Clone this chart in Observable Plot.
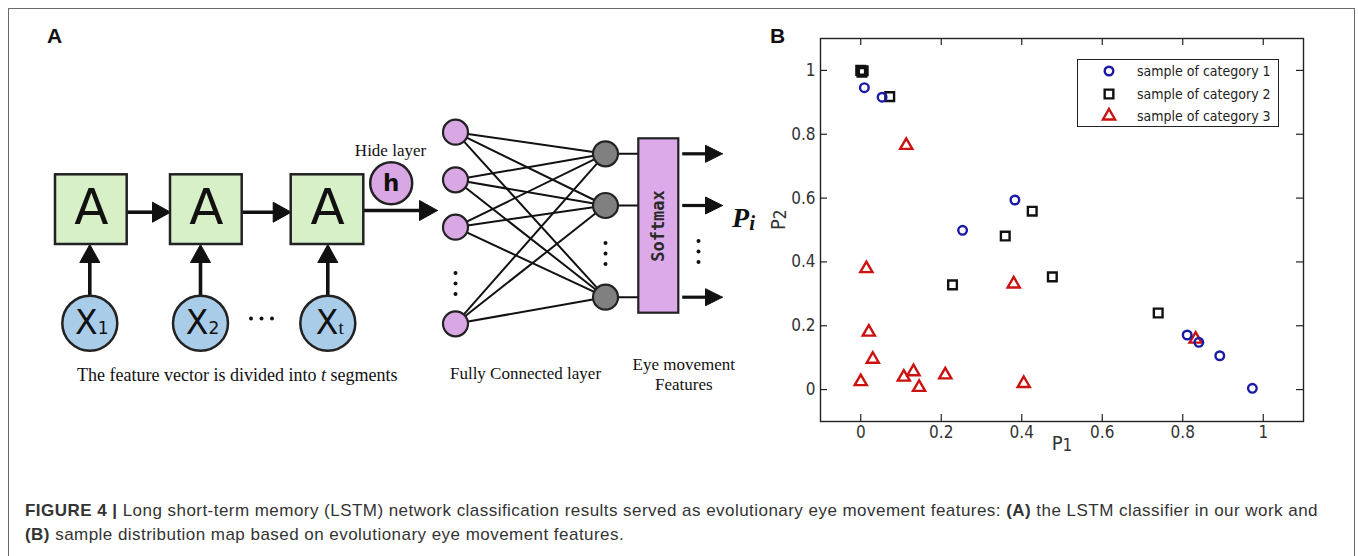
<!DOCTYPE html>
<html><head><meta charset="utf-8">
<script src="https://cdn.jsdelivr.net/npm/d3@7"></script>
<script src="https://cdn.jsdelivr.net/npm/@observablehq/plot@0.6"></script>
<style>
html,body{margin:0;padding:0;background:#fff;}
#page{position:relative;width:1358px;height:556px;overflow:hidden;background:#fff;font-family:"Liberation Sans",Arial,sans-serif;}
#border{position:absolute;left:8px;top:8px;width:1345px;height:600px;border:1px solid #6a6a6a;border-bottom:none;pointer-events:none;}
.panel-label{position:absolute;font:bold 21px/21px "Liberation Sans",Arial,sans-serif;color:#111;}
#caption{position:absolute;left:25px;top:499px;font-size:17px;line-height:24px;color:#333;white-space:nowrap;}
#caption b{font-weight:bold;}
#plotA{position:absolute;left:0;top:0;}
#plotB{position:absolute;left:760px;top:20px;}
#legend{position:absolute;left:1077px;top:59px;width:200px;height:66px;border:1.3px solid #222;background:#fff;font-family:"DejaVu Sans Condensed","DejaVu Sans",sans-serif;font-size:14px;color:#222;}
.lg-item{position:absolute;left:0;height:20px;width:200px;}
.lg-item svg{position:absolute;left:21px;top:0;}
.lg-item span{position:absolute;left:59px;top:1px;line-height:18px;white-space:nowrap;}
</style></head>
<body><div id="page">
<div id="plotA"></div>
<div id="plotB"></div>
<div id="legend"></div>
<div class="panel-label" style="left:47px;top:25px;">A</div>
<div class="panel-label" style="left:770px;top:25px;">B</div>
<div id="caption"><span id="cap1"><b>FIGURE 4 |</b> Long short-term memory (LSTM) network classification results served as evolutionary eye movement features: <b>(A)</b> the LSTM classifier in our work and</span><br><span id="cap2"><b>(B)</b> sample distribution map based on evolutionary eye movement features.</span></div>
<div id="border"></div>
</div>
<script>
// ---------- Panel B data ----------
const categories = ["sample of category 1", "sample of category 2", "sample of category 3"];
const cat1P1 = [0.009, 0.053, 0.253, 0.383, 0.811, 0.840, 0.892, 0.973];
const cat1P2 = [0.946, 0.916, 0.499, 0.594, 0.171, 0.148, 0.106, 0.004];
const cat2P1 = [0.000, 0.003, 0.006, 0.072, 0.228, 0.359, 0.426, 0.476, 0.739];
const cat2P2 = [1.000, 0.994, 0.999, 0.918, 0.328, 0.481, 0.559, 0.353, 0.240];
const cat3P1 = [0.113, 0.014, 0.020, 0.030, 0.000, 0.107, 0.131, 0.145, 0.210, 0.380, 0.405, 0.832];
const cat3P2 = [0.765, 0.379, 0.180, 0.095, 0.025, 0.039, 0.056, 0.007, 0.046, 0.331, 0.019, 0.158];
const tickValues = [0, 0.2, 0.4, 0.6, 0.8, 1];
const tickLabels = ["0", "0.2", "0.4", "0.6", "0.8", "1"];
const axisLabels = ["P1", "P2"];

// ---------- Panel A content ----------
const cellLabels = ["A", "A", "A"];
const inputLabels = ["X1", "X2", "Xt"];
const hiddenLabel = "h";
const textsA = ["Hide layer", "The feature vector is divided into t segments", "Fully Connected layer", "Eye movement\nFeatures", "Softmax", "Pi"];

// layout of the diagram (pixels)
const cellBoxes = [{x1:55, x2:126.7}, {x1:170, x2:241.7}, {x1:290.7, x2:363.3}];
const cellTop = 174.3, cellBottom = 244;
const inputX = [89.3, 200, 327.3], inputY = 322.7, inputR = 27.5;
const hidden = {x:390.7, y:182.7};
const hiddenR = 21;
const fcLeftX = 455, fcLeftY = [131.7, 179.3, 226.7, 323.3];
const fcRightX = 605, fcRightY = [153.3, 205, 296.7];
const nodeR = 12.5;
const softmaxBox = {x1:638.3, x2:678.3, y1:138.3, y2:312.7};
const ellipsisOffsets = [-10.5, 0, 10.5];
const vEllipses = [{x:455, y:283}, {x:605, y:253}, {x:698, y:251}];
const hEllipses = [{x:261, y:318}];

const cells = cellBoxes.map((b,i)=>({...b, y1:cellTop, y2:cellBottom, label:cellLabels[i]}));
const inputs = inputX.map((x,i)=>({x, y:inputY, label:inputLabels[i]}));
const ellDots = [
  ...vEllipses.flatMap(e => ellipsisOffsets.map(o => ({x:e.x, y:e.y + o}))),
  ...hEllipses.flatMap(e => ellipsisOffsets.map(o => ({x:e.x + o, y:e.y})))
];

const bigArrows = [
  {x1:126.7, y1:211.7, x2:170, y2:211.7},
  {x1:241.7, y1:211.7, x2:290.7, y2:211.7},
  {x1:363.3, y1:210, x2:437, y2:210},
  ...inputX.map(x=>({x1:x, y1:inputY-inputR, x2:x, y2:cellBottom}))
];
const outArrows = fcRightY.map(y=>({x1:681.7, y1:y, x2:722, y2:y}));

function arrowParts(list, L, w, offset) {
  const shafts = [], heads = [];
  list.forEach((a, k) => {
    const dx = a.x2 - a.x1, dy = a.y2 - a.y1, len = Math.hypot(dx, dy);
    const ux = dx/len, uy = dy/len;
    const bx = a.x2 - ux*L, by = a.y2 - uy*L;
    shafts.push({x1:a.x1, y1:a.y1, x2:bx+ux*2, y2:by+uy*2});
    const id = offset + k;
    heads.push({id, x:a.x2, y:a.y2}, {id, x:bx - uy*w, y:by + ux*w}, {id, x:bx + uy*w, y:by - ux*w}, {id, x:a.x2, y:a.y2});
  });
  return {shafts, heads};
}
const big = arrowParts(bigArrows, 18, 10, 0);
const out = arrowParts(outArrows, 17, 8.5, 100);

const fcLinks = [];
fcLeftY.forEach(y1 => fcRightY.forEach(y2 => fcLinks.push({x1:fcLeftX, y1, x2:fcRightX, y2})));
const connectors = fcRightY.map(y=>({x1:fcRightX, y1:y, x2:softmaxBox.x1, y2:y}));

const WA = 760, HA = 460;
const serif = "Liberation Serif, Times New Roman, serif";
const sans = "DejaVu Sans, sans-serif";

const plotA = Plot.plot({
  width: WA, height: HA, margin: 0,
  style: {background: "transparent"},
  x: {domain: [0, WA], range: [0, WA], axis: null},
  y: {domain: [0, HA], range: [0, HA], axis: null},
  marks: [
    Plot.link(big.shafts, {x1:"x1", y1:"y1", x2:"x2", y2:"y2", stroke:"#111", strokeWidth:3.6}),
    Plot.line(big.heads, {x:"x", y:"y", z:"id", fill:"#111", stroke:"#111", strokeWidth:1}),
    Plot.rect(cells, {x1:"x1", x2:"x2", y1:"y1", y2:"y2", fill:"#d8f0c8", stroke:"#222", strokeWidth:2.5}),
    Plot.text(cells, {x:d=>(d.x1+d.x2)/2, y:207, text:"label", fontSize:50, fontFamily:sans, fill:"#111"}),
    Plot.dot(inputs, {x:"x", y:"y", r:inputR, fill:"#a9cce9", stroke:"#222", strokeWidth:2.5}),
    Plot.text(inputs, {x:"x", y:"y", text:"label", fontSize:33, fontFamily:sans, fill:"#111", dx:2}),
    Plot.dot([hidden], {x:"x", y:"y", r:hiddenR, fill:"#d9a7e3", stroke:"#222", strokeWidth:2.5}),
    Plot.text([hiddenLabel], {x:hidden.x, y:hidden.y, text:d=>d, fontSize:23, fontWeight:"bold", fontFamily:sans, fill:"#111"}),
    Plot.text([textsA[0]], {x:390, y:150, text:d=>d, fontSize:17, fontFamily:serif, fill:"#111"}),
    Plot.text([textsA[1]], {x:236.7, y:375, text:d=>d, fontSize:18, fontFamily:serif, fill:"#111"}),
    Plot.link(fcLinks, {x1:"x1", y1:"y1", x2:"x2", y2:"y2", stroke:"#111", strokeWidth:2}),
    Plot.link(connectors, {x1:"x1", y1:"y1", x2:"x2", y2:"y2", stroke:"#111", strokeWidth:2}),
    Plot.dot(fcLeftY, {x:fcLeftX, y:d=>d, r:nodeR, fill:"#d9a7e3", stroke:"#222", strokeWidth:2.2}),
    Plot.dot(fcRightY, {x:fcRightX, y:d=>d, r:nodeR, fill:"#808080", stroke:"#222", strokeWidth:2.2}),
    Plot.dot(ellDots, {x:"x", y:"y", r:2, fill:"#111", stroke:"none"}),
    Plot.rect([softmaxBox], {x1:"x1", x2:"x2", y1:"y1", y2:"y2", fill:"#dcaae8", stroke:"#222", strokeWidth:2.2}),
    Plot.text([textsA[4]], {x:(softmaxBox.x1+softmaxBox.x2)/2, y:(softmaxBox.y1+softmaxBox.y2)/2, text:d=>d, rotate:-90, fontSize:17, fontWeight:"bold", fontFamily:"DejaVu Sans Mono, monospace", fill:"#2a2a2a"}),
    Plot.link(out.shafts, {x1:"x1", y1:"y1", x2:"x2", y2:"y2", stroke:"#111", strokeWidth:3.2}),
    Plot.line(out.heads, {x:"x", y:"y", z:"id", fill:"#111", stroke:"#111", strokeWidth:1}),
    Plot.text([textsA[5]], {x:743, y:218, text:d=>d, fontSize:28, fontStyle:"italic", fontWeight:"bold", fontFamily:serif, fill:"#111"}),
    Plot.text([textsA[2]], {x:525, y:373.3, text:d=>d, fontSize:17, fontFamily:serif, fill:"#111"}),
    Plot.text([textsA[3]], {x:683.3, y:373.3, text:d=>d, fontSize:17, lineHeight:1.18, fontFamily:serif, fill:"#111"})
  ]
});
document.getElementById("plotA").append(plotA);

function richText(svg, plain, html) {
  svg.querySelectorAll("text").forEach(t => { if (t.textContent === plain) t.innerHTML = html; });
}
richText(plotA, "X1", 'X<tspan font-size="17">1</tspan>');
richText(plotA, "X2", 'X<tspan font-size="17">2</tspan>');
richText(plotA, "Xt", 'X<tspan font-size="19" font-family="Liberation Serif, serif">t</tspan>');
richText(plotA, textsA[1], 'The feature vector is divided into <tspan font-style="italic">t</tspan> segments');
richText(plotA, "Pi", 'P<tspan font-size="21" dy="3">i</tspan>');

// ---------- Panel B ----------
const cat1 = cat1P1.map((p1,i)=>({p1, p2:cat1P2[i]}));
const cat2 = cat2P1.map((p1,i)=>({p1, p2:cat2P2[i]}));
const cat3 = cat3P1.map((p1,i)=>({p1, p2:cat3P2[i]}));
const colors = ["#1a1aa6", "#111111", "#cc1111"];
const symbols = ["circle", "square", "triangle"];
const radii = [4.3, 4.9, 4.5];

const W = 560, H = 450, mL = 60, mR = 17, mT = 18, mB = 49;
const fw = W - mL - mR, fh = H - mT - mB;
const fmt = d => tickLabels[tickValues.indexOf(d)];
const tickStyle = {stroke:"#222", strokeWidth:1.2};
const plotB = Plot.plot({
  width: W, height: H, marginLeft: mL, marginRight: mR, marginTop: mT, marginBottom: mB,
  style: {fontFamily: "DejaVu Sans Condensed, DejaVu Sans, sans-serif", fontSize: "17px", color: "#333", background: "transparent"},
  x: {domain: [-0.1, 1.1], ticks: tickValues, tickFormat: fmt, tickSize: 0, tickPadding: 4, label: null},
  y: {domain: [-0.1, 1.1], ticks: tickValues, tickFormat: fmt, tickSize: 0, tickPadding: 5, label: null},
  marks: [
    Plot.ruleX(tickValues, {x: d=>d, insetTop: fh - 7, ...tickStyle}),
    Plot.ruleX(tickValues, {x: d=>d, insetBottom: fh - 7, ...tickStyle}),
    Plot.ruleY(tickValues, {y: d=>d, insetRight: fw - 7, ...tickStyle}),
    Plot.ruleY(tickValues, {y: d=>d, insetLeft: fw - 7, ...tickStyle}),
    Plot.frame({stroke:"#222", strokeWidth:1.4}),
    Plot.dot(cat2, {x:"p1", y:"p2", symbol:symbols[1], r:radii[1], stroke:colors[1], strokeWidth:2.4, fill:"none"}),
    Plot.dot(cat3, {x:"p1", y:"p2", symbol:symbols[2], r:radii[2], stroke:colors[2], strokeWidth:2.4, fill:"none"}),
    Plot.dot(cat1, {x:"p1", y:"p2", symbol:symbols[0], r:radii[0], stroke:colors[0], strokeWidth:2.4, fill:"none"}),
    Plot.text([axisLabels[0]], {text:d=>d, frameAnchor:"bottom", dy:28, fontSize:20, fill:"#333"}),
    Plot.text([axisLabels[1]], {text:d=>d, frameAnchor:"left", dx:-42, rotate:-90, fontSize:20, fill:"#333"})
  ]
});
document.getElementById("plotB").append(plotB);
richText(plotB, "P1", 'P<tspan font-size="17" dy="1">1</tspan>');
richText(plotB, "P2", 'P<tspan font-size="17" dy="1">2</tspan>');

// ---------- Legend ----------
const legend = document.getElementById("legend");
const rowY = [1, 24, 46];
const d3sym = [d3.symbolCircle, d3.symbolSquare, d3.symbolTriangle];
categories.forEach((c, i) => {
  const item = document.createElement("div");
  item.className = "lg-item";
  item.style.top = rowY[i] + "px";
  const path = d3.symbol(d3sym[i], Math.PI * radii[i] * radii[i])();
  item.innerHTML = `<svg width="20" height="20"><path d="${path}" transform="translate(10,10)" fill="none" stroke="${colors[i]}" stroke-width="2.4"/></svg><span>${c}</span>`;
  legend.append(item);
});

// ---------- Caption fit ----------
const cap1 = document.getElementById("cap1");
const target = 1293;
const w1 = cap1.getBoundingClientRect().width;
const n1 = cap1.textContent.length;
document.getElementById("caption").style.letterSpacing = ((target - w1) / n1) + "px";
</script>
</body></html>
